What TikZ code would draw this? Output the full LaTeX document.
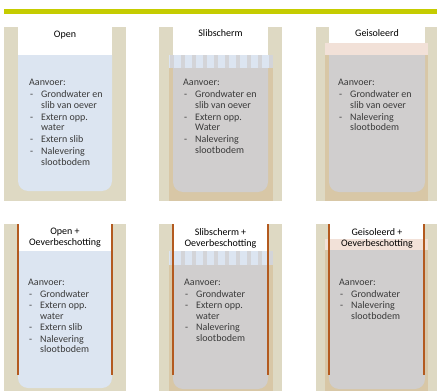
\documentclass[tikz,border=0pt]{standalone}
\usepackage{fontspec}
\setmainfont{Carlito}
\definecolor{bar}{HTML}{C5CC00}
\definecolor{bank}{HTML}{DED9C3}
\definecolor{tanfill}{HTML}{D8C7A6}
\definecolor{water}{HTML}{DCE5F1}
\definecolor{mud}{HTML}{D0CECE}
\definecolor{pinkband}{HTML}{F2E1D8}
\definecolor{pile}{HTML}{B35A1F}
\definecolor{stripecol}{HTML}{D3D4D8}
\definecolor{txt}{HTML}{3A3A3A}
\newcommand\aitem[1]{\hspace*{1pt}\makebox[11pt][l]{-}#1}
\newcommand\acont[1]{\hspace*{12pt}#1}
% rounded-bottom fill: color, x1, y1, x2, y2
\newcommand\rbfill[5]{%
  \begin{scope}
    \clip (#2,#3) rectangle (#4,#5);
    \fill[#1, rounded corners=10pt] (#2,#3-20) rectangle (#4,#5);
  \end{scope}}
\newcommand\stripeband[2]{% y top, height
  \fill[water] (169,#1) rectangle (273,#1+#2);
  \foreach \k in {0,...,9} \fill[stripecol] ({170+11*\k},#1) rectangle ++(4,#2);}
\begin{document}
\begin{tikzpicture}[x=1pt,y=-1pt,
  lbl/.style={anchor=north west, inner sep=0pt, align=left, text=txt,
    font=\fontsize{10}{10.5}\selectfont},
  lblb/.style={lbl, font=\fontsize{10}{10.8}\selectfont},
  ttl/.style={anchor=base, inner sep=0pt, align=center, text=black,
    font=\fontsize{10}{11}\selectfont},
  pilestyle/.style={fill=pile}]
\useasboundingbox (0,0) rectangle (440,391);
\fill[bar] (4,9) rectangle (437,14);

% ---------- top row ----------
% Open
\fill[bank] (4,27) rectangle (126,201);
\fill[white] (18,27) rectangle (112,55);
\rbfill{water}{18}{55}{112}{191}
% Slibscherm
\fill[bank] (159,27) rectangle (282,201);
\fill[white] (173,27) rectangle (268,55);
\fill[tanfill] (169,55) rectangle (273,201);
\stripeband{55}{13}
\rbfill{mud}{173}{68}{268}{192}
% Geisoleerd
\fill[bank] (316,27) rectangle (437,201);
\fill[white] (329,27) rectangle (425,43);
\fill[tanfill] (325,43) rectangle (428,201);
\fill[pinkband] (325,43) rectangle (428,55);
\rbfill{mud}{329}{55}{425}{192}

\node[ttl] (t1) at (65,37) {Open};
\node[ttl] (t2) at (220.5,36) {Slibscherm};
\node[ttl] (t3) at (377,36) {Geisoleerd};

\node[lbl] (a1) at (29,79) {Aanvoer:\\[1.5pt]
  \aitem{Grondwater en}\\ \acont{slib van oever}\\[1.5pt]
  \aitem{Extern opp.}\\ \acont{water}\\[1.5pt]
  \aitem{Extern slib}\\[1.5pt]
  \aitem{Nalevering}\\ \acont{slootbodem}};
\node[lbl] (a2) at (183,79) {Aanvoer:\\[1.5pt]
  \aitem{Grondwater en}\\ \acont{slib van oever}\\[1.5pt]
  \aitem{Extern opp.}\\ \acont{Water}\\[1.5pt]
  \aitem{Nalevering}\\ \acont{slootbodem}};
\node[lbl] (a3) at (338,79) {Aanvoer:\\[1.5pt]
  \aitem{Grondwater en}\\ \acont{slib van oever}\\[1.5pt]
  \aitem{Nalevering}\\ \acont{slootbodem}};

% ---------- bottom row ----------
% Open + Oeverbeschotting
\fill[bank] (4,224) rectangle (126,391);
\fill[white] (18,224) rectangle (112,251);
\rbfill{water}{18}{251}{112}{388}
\fill[pilestyle] (16.8,224) rectangle (19.3,375);
\fill[pilestyle] (110.8,224) rectangle (113.3,375);
% Slibscherm + Oeverbeschotting
\fill[bank] (159,224) rectangle (282,391);
\fill[white] (173,224) rectangle (268,251);
\fill[tanfill] (169,251) rectangle (273,391);
\stripeband{251}{14}
\rbfill{mud}{173}{265}{268}{389}
\fill[pilestyle] (171.8,224) rectangle (174.3,375);
\fill[pilestyle] (266.8,224) rectangle (269.3,375);
% Geisoleerd + Oeverbeschotting
\fill[bank] (316,224) rectangle (437,391);
\fill[white] (329,224) rectangle (425,239);
\fill[tanfill] (325,239) rectangle (428,391);
\fill[pinkband] (325,239) rectangle (428,250);
\rbfill{mud}{329}{250}{425}{389}
\fill[pilestyle] (327.5,224) rectangle (330,375);
\fill[pilestyle] (422.5,224) rectangle (425,375);

\node[ttl] (t4) at (65,245.5) {Open +\\Oeverbeschotting};
\node[ttl] (t5) at (220.5,246) {Slibscherm +\\Oeverbeschotting};
\node[ttl] (t6) at (377,246) {Geisoleerd +\\Oeverbeschotting};

\node[lblb] (a4) at (28,279) {Aanvoer:\\[0.6pt]
  \aitem{Grondwater}\\[0.6pt]
  \aitem{Extern opp.}\\ \acont{water}\\[0.6pt]
  \aitem{Extern slib}\\[0.6pt]
  \aitem{Nalevering}\\ \acont{slootbodem}};
\node[lblb] (a5) at (184,279) {Aanvoer:\\[0.6pt]
  \aitem{Grondwater}\\[0.6pt]
  \aitem{Extern opp.}\\ \acont{water}\\[0.6pt]
  \aitem{Nalevering}\\ \acont{slootbodem}};
\node[lblb] (a6) at (339,279) {Aanvoer:\\[0.6pt]
  \aitem{Grondwater}\\[0.6pt]
  \aitem{Nalevering}\\ \acont{slootbodem}};
\end{tikzpicture}
\end{document}
